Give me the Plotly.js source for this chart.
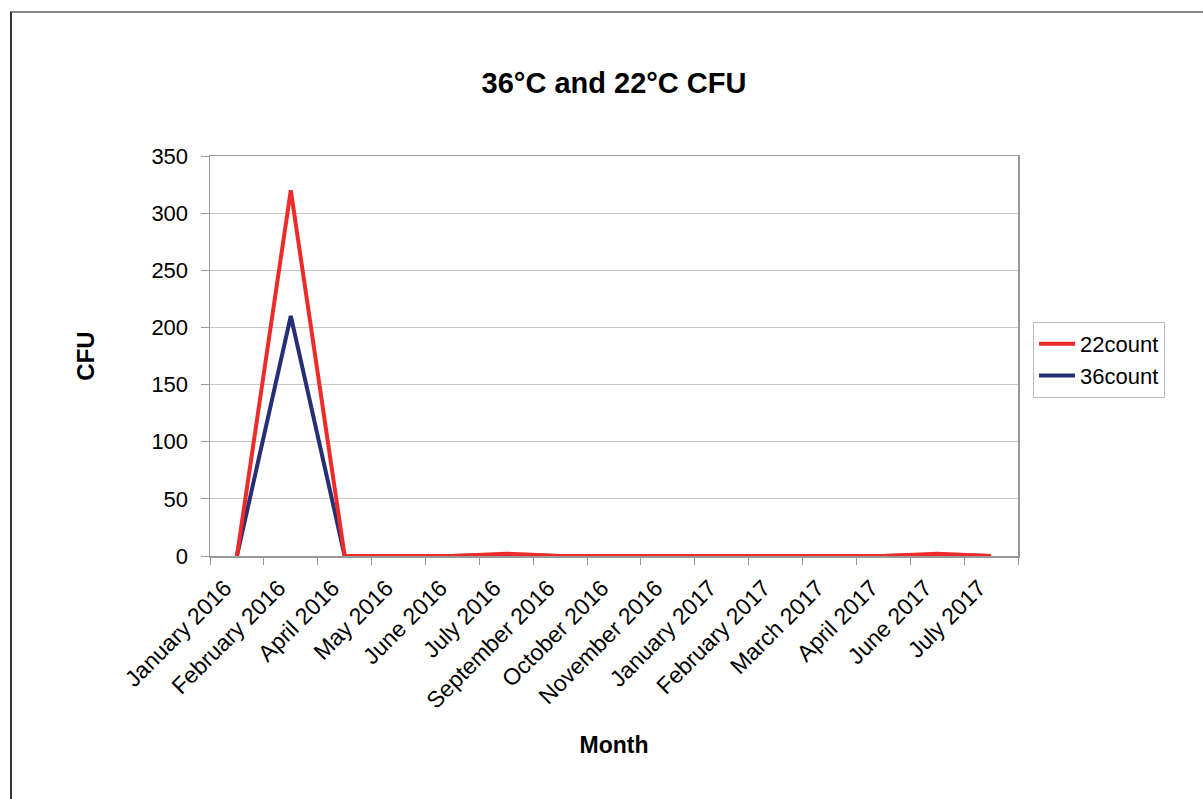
<!DOCTYPE html>
<html>
<head>
<meta charset="utf-8">
<script src="https://cdn.plot.ly/plotly-3.0.1.min.js"></script>
<style>
  html, body { margin: 0; padding: 0; background: #fff; }
  #wrap { position: relative; width: 1203px; height: 799px; overflow: hidden; }
  #chart { position: absolute; left: 0; top: 0; width: 1203px; height: 799px; }
  #frame { position: absolute; left: 10px; top: 11px; width: 1300px; height: 900px;
           border-left: 2px solid #333; border-top: 2px solid #888; pointer-events: none; }
</style>
</head>
<body>
<div id="wrap">
  <div id="chart"></div>
  <div id="frame"></div>
</div>
<script>
const months = ["January 2016", "February 2016", "April 2016", "May 2016", "June 2016",
  "July 2016", "September 2016", "October 2016", "November 2016", "January 2017",
  "February 2017", "March 2017", "April 2017", "June 2017", "July 2017"];
const count22 = [0, 320, 0, 0, 0, 2, 0, 0, 0, 0, 0, 0, 0, 2, 0];
const count36 = [0, 210, 0, 0, 0, 1, 0, 0, 0, 0, 0, 0, 0, 1, 0];
const yTicks = [0, 50, 100, 150, 200, 250, 300, 350];

const FONT = "Liberation Sans, Arial, sans-serif";

const traces = [
  { x: months, y: count36, name: "36count", type: "scatter", mode: "lines",
    line: { color: "#272F74", width: 4 }, legendrank: 2 },
  { x: months, y: count22, name: "22count", type: "scatter", mode: "lines",
    line: { color: "#EE2B2B", width: 4 }, legendrank: 1 }
];

const layout = {
  width: 1203, height: 799,
  paper_bgcolor: "rgba(0,0,0,0)", plot_bgcolor: "#fff",
  margin: { l: 210, r: 185, t: 156, b: 243 },
  font: { family: FONT, color: "#000", size: 22 },
  title: { text: "<b>36°C and 22°C CFU</b>", font: { family: FONT, size: 29, color: "#000" },
           xref: "paper", x: 0.5, xanchor: "center", yref: "container", y: 0.896, yanchor: "middle" },
  xaxis: {
    type: "category", range: [-0.5, 14.5], tickson: "boundaries",
    ticks: "outside", ticklen: 7, tickcolor: "#999", tickwidth: 1,
    showgrid: false, showline: true, linecolor: "#999", linewidth: 1.5, mirror: true,
    tickangle: -45, tickfont: { family: FONT, size: 23, color: "#000" },
    ticklabelstandoff: 8, ticklabelshift: -12,
    title: { text: "<b>Month</b>", font: { family: FONT, size: 23, color: "#000" }, standoff: 24 },
    fixedrange: true
  },
  yaxis: {
    range: [0, 350], tickvals: yTicks, ticktext: yTicks.map(String),
    ticks: "outside", ticklen: 8, tickcolor: "#999", tickwidth: 1,
    showgrid: true, gridcolor: "#c8c8c8", gridwidth: 1,
    showline: true, linecolor: "#999", linewidth: 1.5, mirror: true, zeroline: false,
    tickfont: { family: FONT, size: 22, color: "#000" },
    ticklabelstandoff: 8,
    title: { text: "<b>CFU</b>", font: { family: FONT, size: 24, color: "#000" }, standoff: 50 },
    fixedrange: true
  },
  showlegend: true,
  legend: {
    x: 1.0186, xanchor: "left", y: 0.585, yanchor: "top",
    bgcolor: "#fff", bordercolor: "#bbb", borderwidth: 1,
    font: { family: FONT, size: 22, color: "#000" },
    itemwidth: 36, tracegroupgap: 0
  }
};

Plotly.newPlot("chart", traces, layout, { displayModeBar: false, staticPlot: true });
</script>
</body>
</html>
